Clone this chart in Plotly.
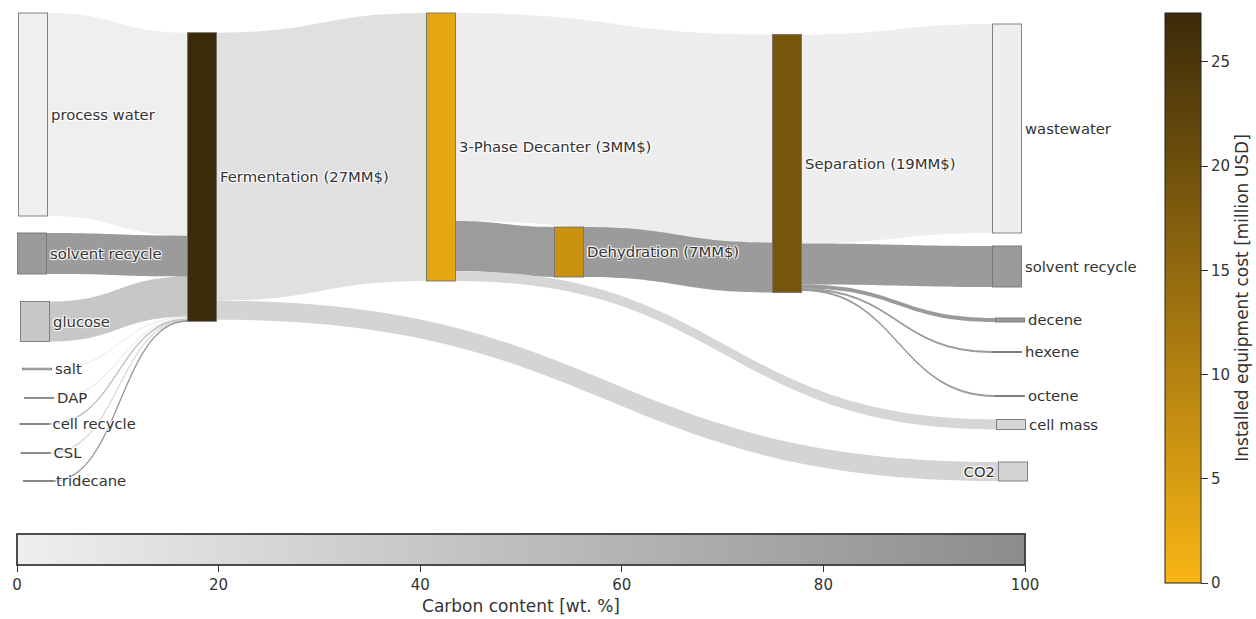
import plotly.graph_objects as go
from plotly.colors import sample_colorscale

FIG_W, FIG_H = 1256, 619

# ---- data -----------------------------------------------------------------
# process units and their installed equipment cost [million USD]
unit_names = ["Fermentation", "3-Phase Decanter", "Dehydration", "Separation"]
unit_cost = [27.35, 3.0, 7.0, 19.0]

# feed streams and their carbon content [wt. %]
feed_names = ["process water", "solvent recycle", "glucose", "salt", "DAP",
              "cell recycle", "CSL", "tridecane"]
feed_carbon = [0.0, 84.7, 40.0, 0.0, 0.0, 47.0, 20.0, 84.7]

# product streams and their carbon content [wt. %]
product_names = ["wastewater", "solvent recycle", "decene", "hexene", "octene",
                 "cell mass", "CO2"]
product_carbon = [1.0, 84.7, 85.6, 85.6, 85.6, 25.0, 27.3]

# flows between nodes (node index order: feeds, units, products)
link_source = [0, 1, 2, 3, 4, 5, 6, 7, 8, 8, 9, 9, 9, 10, 11, 11, 11, 11, 11]
link_target = [8, 8, 8, 8, 8, 8, 8, 8, 9, 18, 11, 10, 17, 11, 12, 13, 14, 15, 16]
link_value = [203, 41, 40, 1.5, 0.8, 0.8, 0.8, 0.8,
              268, 19,
              208, 50, 10,
              50,
              209, 41, 4, 1, 1]
link_carbon = [0.0, 84.7, 40.0, 0.0, 0.0, 47.0, 20.0, 84.7,
               15.0, 27.3,
               2.0, 84.0, 25.0,
               85.0,
               1.0, 84.7, 85.6, 85.6, 85.6]

carbon_ticks = [0, 20, 40, 60, 80, 100]
cost_ticks = [0, 5, 10, 15, 20, 25]

# ---- styling --------------------------------------------------------------
FONT = "DejaVu Sans"
TEXT = "#333333"
carbon_scale = [[0.0, "#efefef"], [1.0, "#8c8c8c"]]
cost_scale = [[0.0, "#f9b514"], [1.0, "#3c2b0a"]]
CARBON_MAX = 100.0
COST_MAX = max(unit_cost)


def carbon_color(c):
    return sample_colorscale(carbon_scale, [c / CARBON_MAX])[0]


def cost_color(c):
    return sample_colorscale(cost_scale, [c / COST_MAX])[0]


labels = (feed_names
          + [f"{n} ({c:.0f}MM$)" for n, c in zip(unit_names, unit_cost)]
          + product_names)
node_colors = ([carbon_color(c) for c in feed_carbon]
               + [cost_color(c) for c in unit_cost]
               + [carbon_color(c) for c in product_carbon])
link_colors = [carbon_color(c) for c in link_carbon]

# sankey drawing area in pixels
DX0, DX1 = 5, 1040
DY0, DY1 = 8, 490
dom_w, dom_h = DX1 - DX0, DY1 - DY0

# node centres in pixels
node_px = ([33, 32, 35, 37, 39, 34.5, 35.5, 38]
           + [202, 441, 569, 787]
           + [1007, 1007, 1010, 1007, 1010, 1011, 1013])
node_py = ([114.5, 253.5, 321.5, 369, 398, 424, 453, 481]
           + [177, 147, 252, 163.5]
           + [128.5, 266.5, 320, 352, 396, 424.5, 471.5])
node_x = [(p - DX0) / dom_w for p in node_px]
node_y = [(p - DY0) / dom_h for p in node_py]

# padding chosen so that one flow unit spans one pixel in the busiest column
left_total = sum(link_value[:8])
n_left = len(feed_names)
node_pad = (dom_h - left_total) / (n_left - 1)

fig = go.Figure()

fig.add_trace(go.Sankey(
    arrangement="fixed",
    domain=dict(x=[DX0 / FIG_W, DX1 / FIG_W],
                y=[1 - DY1 / FIG_H, 1 - DY0 / FIG_H]),
    node=dict(
        label=labels,
        color=node_colors,
        x=node_x,
        y=node_y,
        pad=node_pad,
        thickness=29,
        line=dict(color="rgba(110,110,110,0.85)", width=1),
    ),
    link=dict(
        source=link_source,
        target=link_target,
        value=link_value,
        color=link_colors,
        line=dict(width=0),
    ),
    textfont=dict(family=FONT, size=14.8, color=TEXT),
    hoverinfo="skip",
))

# horizontal colour bar: carbon content
fig.add_trace(go.Scatter(
    x=[None], y=[None], mode="markers", showlegend=False, hoverinfo="skip",
    marker=dict(
        color=[0], cmin=0, cmax=CARBON_MAX, colorscale=carbon_scale,
        showscale=True,
        colorbar=dict(
            orientation="h",
            x=17 / FIG_W, xanchor="left", xpad=0,
            y=1 - 534 / FIG_H, yanchor="top", ypad=0,
            len=1008, lenmode="pixels",
            thickness=31, thicknessmode="pixels",
            outlinecolor="#3a3a3a", outlinewidth=1.8,
            tickvals=carbon_ticks, ticks="outside", ticklen=7,
            tickcolor="#333333",
            tickfont=dict(family=FONT, size=15, color=TEXT),
            title=dict(text="Carbon content [wt. %]", side="bottom",
                       font=dict(family=FONT, size=17, color=TEXT)),
        ),
    ),
))

# vertical colour bar: installed equipment cost
fig.add_trace(go.Scatter(
    x=[None], y=[None], mode="markers", showlegend=False, hoverinfo="skip",
    marker=dict(
        color=[0], cmin=0, cmax=COST_MAX, colorscale=cost_scale,
        showscale=True,
        colorbar=dict(
            orientation="v",
            x=1165 / FIG_W, xanchor="left", xpad=0,
            y=1 - 13 / FIG_H, yanchor="top", ypad=0,
            len=570, lenmode="pixels",
            thickness=36, thicknessmode="pixels",
            outlinecolor="#222222", outlinewidth=1,
            tickvals=cost_ticks, ticks="outside", ticklen=7,
            tickcolor="#333333",
            tickfont=dict(family=FONT, size=15, color=TEXT),
            title=dict(text="Installed equipment cost [million USD]",
                       side="right",
                       font=dict(family=FONT, size=17, color=TEXT)),
        ),
    ),
))

fig.update_layout(
    width=FIG_W, height=FIG_H,
    margin=dict(l=0, r=0, t=0, b=0),
    paper_bgcolor="white", plot_bgcolor="white",
    xaxis=dict(visible=False), yaxis=dict(visible=False),
    font=dict(family=FONT, color=TEXT),
    hovermode=False,
)

fig.write_html("out.html")
